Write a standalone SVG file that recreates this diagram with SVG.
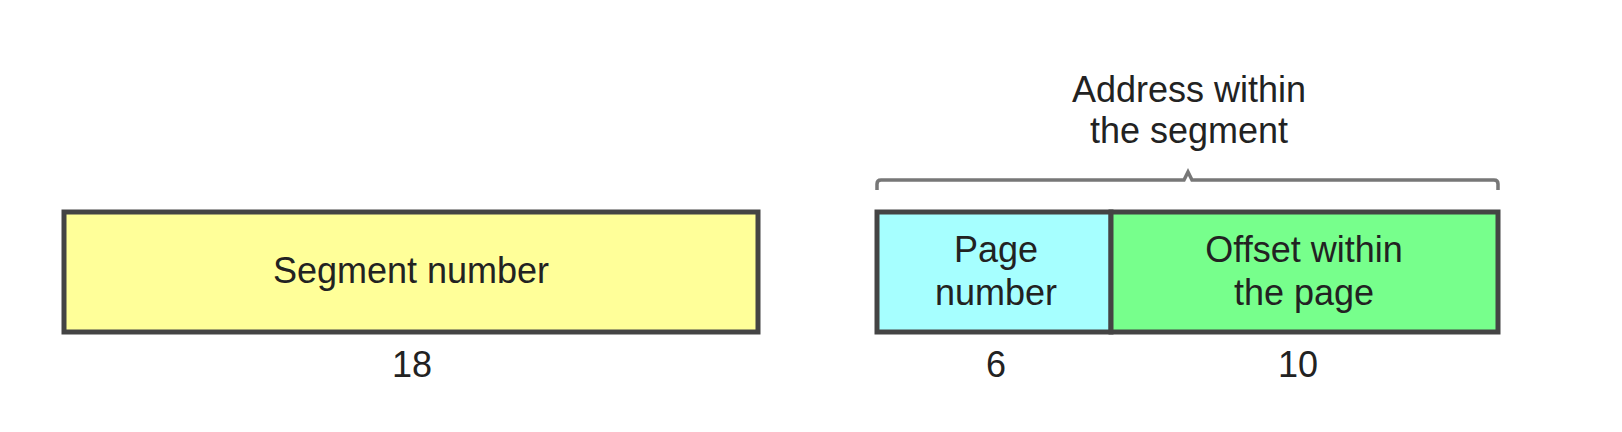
<svg xmlns="http://www.w3.org/2000/svg" width="1622" height="432" viewBox="0 0 1622 432">
<style>
.box{stroke:#444;stroke-width:5}
.t{font-family:"Liberation Sans",Arial,sans-serif;font-size:36px;fill:#222;text-anchor:middle}
.br{fill:none;stroke:#777;stroke-width:3.5}
</style>
<rect width="1622" height="432" fill="#fff"/>
<g id="segment">
<rect class="box" x="64" y="212" width="694" height="120" fill="#FFFF99"/>
<text class="t" x="411" y="283">Segment number</text>
</g>
<g id="page">
<rect class="box" x="877" y="212" width="234" height="120" fill="#A6FFFF"/>
<text class="t" x="996" y="262">Page</text>
<text class="t" x="996" y="305">number</text>
</g>
<g id="offset">
<rect class="box" x="1111" y="212" width="387" height="120" fill="#77FF8C"/>
<text class="t" x="1304" y="262">Offset within</text>
<text class="t" x="1304" y="305">the page</text>
</g>
<g id="labels">
<text class="t" x="412" y="377">18</text>
<text class="t" x="996" y="377">6</text>
<text class="t" x="1298" y="377">10</text>
<text class="t" x="1189" y="102">Address within</text>
<text class="t" x="1189" y="143">the segment</text>
</g>
<g id="connectors">
<path class="br" d="M877,190 L877,184 Q877,180 881,180 L1184,180 L1188,172 L1192,180 L1494,180 Q1498,180 1498,184 L1498,190"/>
</g>
</svg>
